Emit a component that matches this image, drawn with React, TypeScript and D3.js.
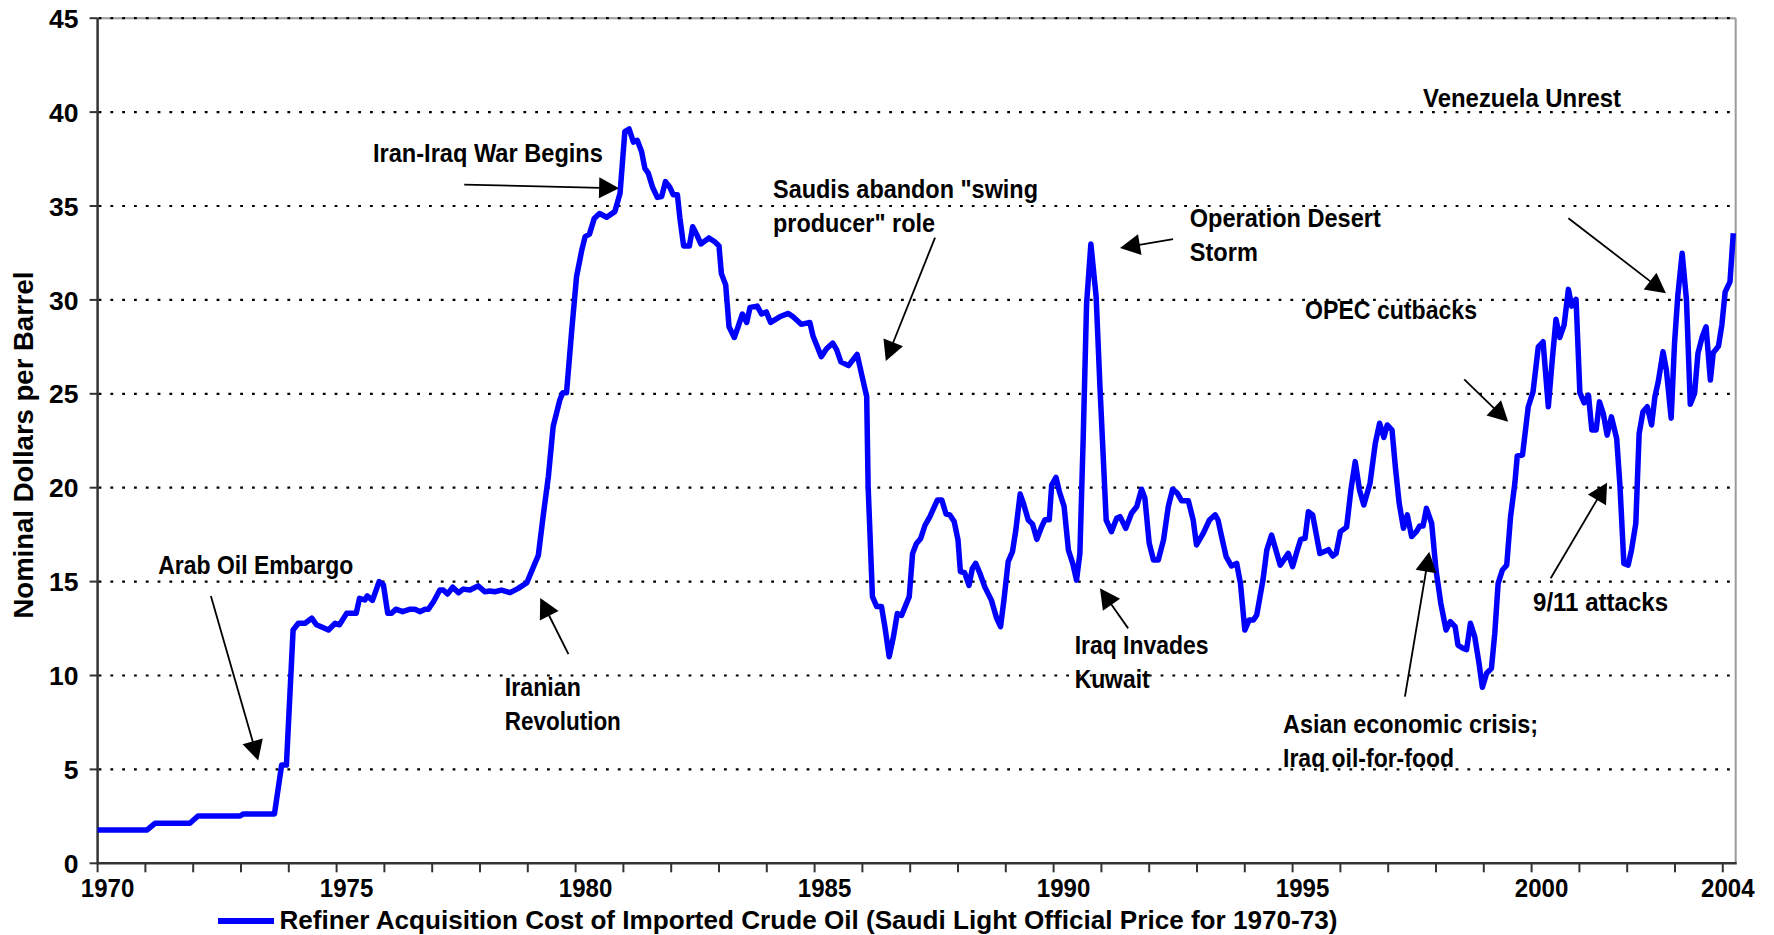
import React from "react";
import * as d3 from "d3";

// ---- Data ----
const years: number[] = [
  1970.0, 1971.03, 1971.2, 1971.93, 1972.1, 1972.98, 1973.05, 1973.7, 1973.85, 1973.95,
  1974.09, 1974.2, 1974.34, 1974.48, 1974.58, 1974.83, 1974.97, 1975.06, 1975.21, 1975.41,
  1975.48, 1975.59, 1975.64, 1975.75, 1975.89, 1975.98, 1976.07, 1976.15, 1976.24, 1976.38,
  1976.54, 1976.64, 1976.75, 1976.85, 1976.92, 1977.03, 1977.16, 1977.23, 1977.32, 1977.43,
  1977.55, 1977.65, 1977.79, 1977.96, 1978.1, 1978.21, 1978.31, 1978.45, 1978.63, 1978.8,
  1978.98, 1979.12, 1979.22, 1979.32, 1979.43, 1979.53, 1979.67, 1979.73, 1979.81, 1979.92,
  1980.02, 1980.13, 1980.2, 1980.29, 1980.39, 1980.5, 1980.65, 1980.82, 1980.93, 1981.03,
  1981.12, 1981.21, 1981.29, 1981.38, 1981.45, 1981.52, 1981.61, 1981.71, 1981.8, 1981.88,
  1981.97, 1982.04, 1982.13, 1982.18, 1982.26, 1982.38, 1982.45, 1982.53, 1982.62, 1982.79,
  1982.91, 1983.0, 1983.05, 1983.14, 1983.21, 1983.32, 1983.4, 1983.49, 1983.58, 1983.65,
  1983.8, 1983.89, 1983.99, 1984.08, 1984.27, 1984.45, 1984.55, 1984.72, 1984.9, 1984.97,
  1985.14, 1985.25, 1985.38, 1985.46, 1985.55, 1985.71, 1985.89, 1985.98, 1986.09, 1986.12,
  1986.21, 1986.3, 1986.4, 1986.47, 1986.56, 1986.65, 1986.73, 1986.82, 1986.98, 1987.05,
  1987.13, 1987.22, 1987.31, 1987.41, 1987.57, 1987.66, 1987.75, 1987.83, 1987.92, 1988.0,
  1988.05, 1988.14, 1988.23, 1988.3, 1988.37, 1988.46, 1988.56, 1988.7, 1988.81, 1988.89,
  1988.96, 1989.05, 1989.14, 1989.21, 1989.3, 1989.37, 1989.47, 1989.56, 1989.65, 1989.75,
  1989.82, 1989.91, 1989.96, 1990.05, 1990.12, 1990.22, 1990.31, 1990.4, 1990.48, 1990.55,
  1990.62, 1990.69, 1990.78, 1990.89, 1990.97, 1991.1, 1991.21, 1991.32, 1991.39, 1991.51,
  1991.63, 1991.74, 1991.84, 1991.91, 1992.0, 1992.09, 1992.19, 1992.3, 1992.4, 1992.49,
  1992.59, 1992.68, 1992.82, 1992.92, 1992.99, 1993.13, 1993.26, 1993.38, 1993.44, 1993.53,
  1993.61, 1993.72, 1993.83, 1993.91, 1994.0, 1994.09, 1994.18, 1994.25, 1994.38, 1994.46,
  1994.56, 1994.65, 1994.74, 1994.91, 1995.0, 1995.1, 1995.17, 1995.26, 1995.33, 1995.42,
  1995.57, 1995.75, 1995.84, 1995.91, 1996.0, 1996.13, 1996.22, 1996.31, 1996.4, 1996.49,
  1996.62, 1996.73, 1996.82, 1996.91, 1996.98, 1997.08, 1997.15, 1997.23, 1997.32, 1997.4,
  1997.49, 1997.59, 1997.66, 1997.73, 1997.8, 1997.91, 1998.0, 1998.1, 1998.21, 1998.3,
  1998.4, 1998.46, 1998.57, 1998.64, 1998.72, 1998.81, 1998.9, 1998.97, 1999.06, 1999.16,
  1999.23, 1999.3, 1999.39, 1999.48, 1999.56, 1999.65, 1999.7, 1999.81, 1999.93, 2000.03,
  2000.14, 2000.24, 2000.35, 2000.42, 2000.51, 2000.59, 2000.68, 2000.77, 2000.84, 2000.93,
  2001.01, 2001.1, 2001.19, 2001.26, 2001.35, 2001.42, 2001.5, 2001.58, 2001.67, 2001.78,
  2001.85, 2001.93, 2002.02, 2002.09, 2002.18, 2002.25, 2002.33, 2002.42, 2002.51, 2002.58,
  2002.65, 2002.75, 2002.82, 2002.92, 2002.99, 2003.06, 2003.15, 2003.24, 2003.32, 2003.41,
  2003.48, 2003.57, 2003.65, 2003.74, 2003.8, 2003.91, 2003.98, 2004.05, 2004.15, 2004.22,
];

const prices: number[] = [
  1.77, 1.77, 2.13, 2.13, 2.52, 2.52, 2.63, 2.63, 5.23, 5.23,
  12.42, 12.78, 12.78, 13.05, 12.7, 12.42, 12.78, 12.7, 13.31, 13.31,
  14.11, 14.02, 14.24, 14.0, 15.0, 14.82, 13.31, 13.31, 13.53, 13.4,
  13.53, 13.53, 13.4, 13.53, 13.53, 13.94, 14.55, 14.55, 14.34, 14.7,
  14.41, 14.6, 14.55, 14.77, 14.46, 14.5, 14.46, 14.55, 14.41, 14.64,
  14.94, 15.8, 16.4, 18.46, 20.59, 23.25, 24.67, 25.06, 25.06, 28.4,
  31.24, 32.66, 33.37, 33.5, 34.34, 34.6, 34.4, 34.7, 35.68, 38.96,
  39.1, 38.4, 38.5, 37.9, 37.0, 36.75, 36.0, 35.46, 35.5, 36.3,
  36.0, 35.6, 35.6, 34.4, 32.87, 32.87, 33.9, 33.5, 32.98, 33.3,
  33.1, 32.87, 31.4, 30.8, 28.57, 28.0, 28.57, 29.25, 28.8, 29.6,
  29.67, 29.25, 29.36, 28.8, 29.1, 29.28, 29.1, 28.7, 28.8, 28.05,
  26.98, 27.4, 27.7, 27.35, 26.7, 26.5, 27.1, 26.08, 24.85, 20.06,
  14.2, 13.67, 13.67, 12.6, 11.0, 12.07, 13.3, 13.2, 14.2, 16.5,
  17.03, 17.3, 18.0, 18.45, 19.35, 19.35, 18.6, 18.55, 18.2, 17.22,
  15.53, 15.47, 14.8, 15.7, 15.97, 15.43, 14.72, 14.0, 13.04, 12.6,
  14.0, 16.06, 16.6, 17.75, 19.66, 19.16, 18.28, 18.06, 17.25, 17.92,
  18.3, 18.3, 20.14, 20.55, 19.8, 18.99, 16.68, 15.97, 15.08, 16.5,
  22.7, 29.8, 32.98, 30.17, 25.38, 18.28, 17.66, 18.37, 18.46, 17.84,
  18.64, 19.0, 19.92, 19.44, 17.04, 16.15, 16.15, 17.22, 19.0, 19.92,
  19.7, 19.3, 19.3, 18.28, 16.95, 17.57, 18.28, 18.55, 18.28, 17.22,
  16.33, 15.83, 15.97, 14.9, 12.42, 12.95, 12.95, 13.22, 15.08, 16.68,
  17.48, 16.68, 15.88, 16.5, 15.8, 16.68, 17.25, 17.3, 18.72, 18.55,
  16.5, 16.7, 16.36, 16.5, 17.66, 17.9, 19.88, 21.39, 19.88, 19.08,
  20.24, 22.36, 23.43, 22.68, 23.34, 23.07, 21.1, 19.17, 17.84, 18.55,
  17.4, 17.66, 17.96, 17.96, 18.9, 18.1, 15.62, 13.85, 12.42, 12.87,
  12.6, 11.62, 11.44, 11.38, 12.78, 12.07, 10.65, 9.37, 10.12, 10.38,
  12.25, 14.91, 15.62, 15.88, 18.46, 20.24, 21.69, 21.74, 24.31, 25.1,
  27.5, 27.77, 24.31, 26.44, 28.97, 28.0, 28.66, 30.56, 29.67, 30.03,
  25.06, 24.52, 24.93, 23.07, 23.07, 24.57, 23.95, 22.8, 23.77, 22.62,
  20.05, 15.97, 15.88, 16.68, 18.1, 22.89, 24.04, 24.31, 23.34, 24.85,
  25.65, 27.24, 26.26, 23.7, 27.68, 30.26, 32.48, 30.0, 24.45, 25.03,
  27.15, 28.04, 28.57, 25.73, 27.19, 27.54, 28.66, 30.43, 30.96, 33.55,
];

const yTickValues: number[] = [0, 5, 10, 15, 20, 25, 30, 35, 40, 45];
const xTickYears: number[] = d3.range(1970, 2005);
const xLabelYears: number[] = [1970, 1975, 1980, 1985, 1990, 1995, 2000, 2004];
const yTitle = "Nominal Dollars per Barrel";
const legendLabel =
  "Refiner Acquisition Cost of Imported Crude Oil (Saudi Light Official Price for 1970-73)";

// annotation texts, anchored in data space (year, price)
const noteLabels = [
  { lines: ["Arab Oil Embargo"], at: [1971.27, 15.4], widths: [195] },
  { lines: ["Iranian", "Revolution"], at: [1978.52, 8.92], widths: [76, 116] },
  { lines: ["Iran-Iraq War Begins"], at: [1975.76, 37.34], widths: [230] },
  { lines: ['Saudis abandon "swing', 'producer" role'], at: [1984.13, 35.4], widths: [265, 162] },
  { lines: ["Operation Desert", "Storm"], at: [1992.85, 33.88], widths: [191, 68] },
  { lines: ["Iraq Invades", "Kuwait"], at: [1990.44, 11.15], widths: [134, 75] },
  { lines: ["OPEC cutbacks"], at: [1995.26, 28.98], widths: [172] },
  { lines: ["Venezuela Unrest"], at: [1997.73, 40.26], widths: [198] },
  { lines: ["9/11 attacks"], at: [2000.03, 13.43], widths: [135] },
  { lines: ["Asian economic crisis;", "Iraq oil-for-food"], at: [1994.8, 6.94], widths: [255, 171] },
];

const noteArrows = [
  { from: [1972.37, 14.23], to: [1973.36, 5.47] },
  { from: [1979.85, 11.14], to: [1979.26, 14.13] },
  { from: [1977.67, 36.14], to: [1980.91, 35.94] },
  { from: [1987.52, 33.32], to: [1986.49, 26.75] },
  { from: [1992.5, 33.24], to: [1991.39, 32.76] },
  { from: [1991.56, 12.51], to: [1990.97, 14.64] },
  { from: [1998.59, 25.77], to: [1999.51, 23.51] },
  { from: [2000.77, 34.35], to: [2002.81, 30.35] },
  { from: [2000.4, 15.18], to: [2001.58, 20.27] },
  { from: [1997.35, 8.87], to: [1997.86, 16.59] },
];

// ---- Layout ----
const W = 1774;
const H = 935;
const X0 = 97.6;
const X1 = 1735.7;
const Y0 = 863.3;
const Y1 = 18.2;
const FONT = "'Liberation Sans', Arial, Helvetica, sans-serif";

export default function App() {
  const x = d3.scaleLinear().domain([1970, 2004.27]).range([X0, X1]);
  const y = d3.scaleLinear().domain([0, 45]).range([Y0, Y1]);

  const pts: [number, number][] = years.map((yr, i) => [yr, prices[i]]);
  const lineGen = d3
    .line<[number, number]>()
    .x((d) => x(d[0]))
    .y((d) => y(d[1]));

  const arrowEls = noteArrows.map((a, i) => {
    const x1 = x(a.from[0]);
    const y1 = y(a.from[1]);
    const x2 = x(a.to[0]);
    const y2 = y(a.to[1]);
    const dx = x2 - x1;
    const dy = y2 - y1;
    const len = Math.sqrt(dx * dx + dy * dy);
    const ux = dx / len;
    const uy = dy / len;
    const hl = 20;
    const hw = 10.5;
    const bx = x2 - ux * hl;
    const by = y2 - uy * hl;
    const p1 = [bx - uy * hw, by + ux * hw];
    const p2 = [bx + uy * hw, by - ux * hw];
    return (
      <g key={"arr" + i}>
        <line x1={x1} y1={y1} x2={bx + ux * 2} y2={by + uy * 2} stroke="#000" strokeWidth={1.8} />
        <polygon points={`${x2},${y2} ${p1[0]},${p1[1]} ${p2[0]},${p2[1]}`} fill="#000" />
      </g>
    );
  });

  return (
    <svg
      width={W}
      height={H}
      viewBox={`0 0 ${W} ${H}`}
      style={{ position: "absolute", left: 0, top: 0, display: "block", background: "#fff" }}
      fontFamily={FONT}
      fontWeight="bold"
    >
      <rect x={0} y={0} width={W} height={H} fill="#fff" />
      {/* plot frame (top/right) */}
      <line x1={X0} y1={Y1} x2={X1} y2={Y1} stroke="#9a9a9a" strokeWidth={2} />
      <line x1={X1} y1={Y1} x2={X1} y2={Y0} stroke="#9a9a9a" strokeWidth={2} />
      {/* gridlines */}
      {yTickValues
        .filter((v) => v > 0)
        .map((v) => (
          <line
            key={"g" + v}
            x1={X0}
            x2={X1}
            y1={y(v)}
            y2={y(v)}
            stroke="#000"
            strokeWidth={2.2}
            strokeDasharray="2.8 9"
            strokeDashoffset={-1}
          />
        ))}
      {/* axes */}
      <line x1={X0} y1={Y1} x2={X0} y2={Y0 + 1} stroke="#333" strokeWidth={2.5} />
      <line x1={X0} y1={Y0} x2={X1 + 1} y2={Y0} stroke="#333" strokeWidth={2.5} />
      {yTickValues.map((v) => (
        <line key={"yt" + v} x1={X0 - 8} x2={X0} y1={y(v)} y2={y(v)} stroke="#333" strokeWidth={2} />
      ))}
      {xTickYears.map((yr) => (
        <line key={"xt" + yr} x1={x(yr)} x2={x(yr)} y1={Y0} y2={Y0 + 9} stroke="#333" strokeWidth={2} />
      ))}
      {yTickValues.map((v) => (
        <text key={"yl" + v} x={78.5} y={y(v) + 9.6} fontSize={26.5} textAnchor="end" fill="#000">
          {v}
        </text>
      ))}
      {xLabelYears.map((yr) => (
        <text
          key={"xl" + yr}
          x={x(yr) + (yr === 2004 ? 5 : 10)}
          y={896.7}
          fontSize={26.5}
          textAnchor="middle"
          textLength={53.5}
          lengthAdjust="spacingAndGlyphs"
          fill="#000"
        >
          {yr}
        </text>
      ))}
      <text
        transform={`translate(32.5, 445) rotate(-90)`}
        fontSize={27}
        textAnchor="middle"
        textLength={347}
        lengthAdjust="spacingAndGlyphs"
        fill="#000"
      >
        {yTitle}
      </text>

      {/* data line */}
      <path
        d={lineGen(pts) || ""}
        fill="none"
        stroke="#0000ff"
        strokeWidth={5.5}
        strokeLinejoin="round"
        strokeLinecap="butt"
      />

      {/* annotations */}
      {arrowEls}
      {noteLabels.map((n, i) =>
        n.lines.map((ln, j) => (
          <text
            key={"n" + i + "_" + j}
            x={x(n.at[0])}
            y={y(n.at[1]) + j * 33.8}
            fontSize={25}
            textLength={n.widths[j]}
            lengthAdjust="spacingAndGlyphs"
            fill="#000"
          >
            {ln}
          </text>
        ))
      )}

      {/* legend */}
      <line x1={218} x2={274} y1={921} y2={921} stroke="#0000ff" strokeWidth={6} />
      <text x={279.5} y={928.5} fontSize={25.5} textLength={1058} lengthAdjust="spacingAndGlyphs" fill="#000">
        {legendLabel}
      </text>
    </svg>
  );
}
